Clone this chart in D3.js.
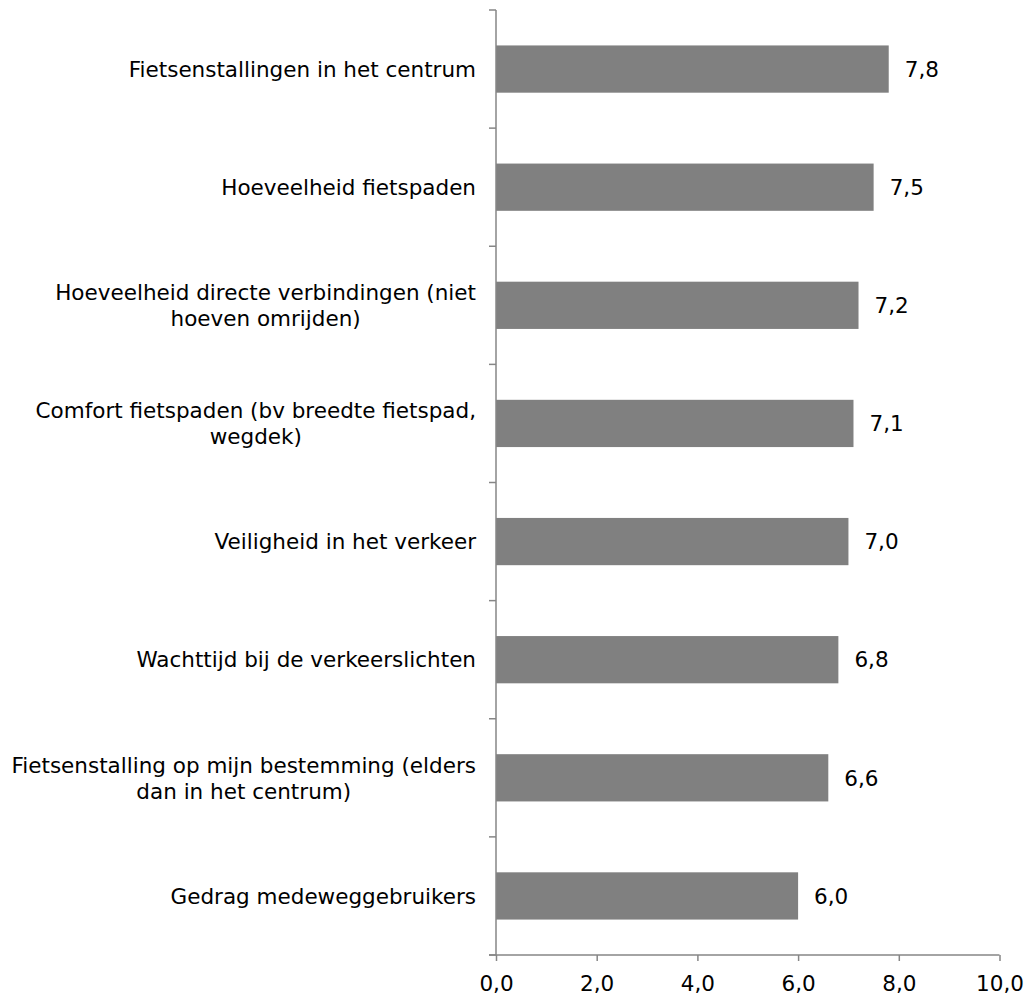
<!DOCTYPE html>
<html>
<head>
<meta charset="utf-8">
<script src="https://cdn.jsdelivr.net/npm/d3@7"></script>
<style>
  body { margin: 0; background: #fff; }
  text { font-family: "DejaVu Sans", Verdana, sans-serif; font-size: 21.5px; fill: #000; }
</style>
</head>
<body>
<div class="chart"></div>
<script>
// Chart data
var categories = [
  "Fietsenstallingen in het centrum",
  "Hoeveelheid fietspaden",
  "Hoeveelheid directe verbindingen (niet\nhoeven omrijden)",
  "Comfort fietspaden (bv breedte fietspad,\nwegdek)",
  "Veiligheid in het verkeer",
  "Wachttijd bij de verkeerslichten",
  "Fietsenstalling op mijn bestemming (elders\ndan in het centrum)",
  "Gedrag medeweggebruikers"
];
var values = [7.8, 7.5, 7.2, 7.1, 7.0, 6.8, 6.6, 6.0];
var xTicks = [0, 2, 4, 6, 8, 10];

// SVG area
var svgWidth = 1032;
var svgHeight = 995;
var margin = {top: 10, right: 32, bottom: 40, left: 496};
var width = svgWidth - margin.left - margin.right;
var height = svgHeight - margin.top - margin.bottom;

var svg = d3.select(".chart")
  .append("svg")
  .attr("width", svgWidth)
  .attr("height", svgHeight);

var chart = svg.append("g")
  .attr("transform", "translate(" + margin.left + "," + margin.top + ")");

// Scales
var xScale = d3.scaleLinear().domain([0, 10]).range([0, width - 0.5]);
var yScale = d3.scaleBand()
  .domain(categories)
  .range([0, height])
  .paddingInner(0.6)
  .paddingOuter(0.3);

var fmt = function(d) { return d3.format(".1f")(d).replace(".", ","); };

// Bars
chart.selectAll("rect.bar")
  .data(values)
  .enter().append("rect")
  .attr("class", "bar")
  .attr("x", 0)
  .attr("y", function(d, i) { return yScale(categories[i]); })
  .attr("width", function(d) { return xScale(d); })
  .attr("height", yScale.bandwidth())
  .attr("fill", "#808080");

// Value labels
chart.selectAll("text.value")
  .data(values)
  .enter().append("text")
  .attr("class", "value")
  .attr("x", function(d) { return xScale(d) + 16; })
  .attr("y", function(d, i) { return yScale(categories[i]) + yScale.bandwidth() / 2; })
  .attr("dy", "0.36em")
  .text(fmt);

// X axis
var bottomAxis = d3.axisBottom(xScale)
  .tickValues(xTicks)
  .tickSize(6)
  .tickSizeOuter(0)
  .tickPadding(15)
  .tickFormat(fmt);

var xAxis = chart.append("g")
  .attr("transform", "translate(0," + height + ")")
  .call(bottomAxis);
xAxis.attr("font-size", null).attr("font-family", null);
xAxis.select(".domain").attr("stroke", "#868686").attr("stroke-width", 1.5).attr("d", "M-7,0H" + xScale(10));
xAxis.selectAll(".tick line").attr("stroke", "#868686").attr("stroke-width", 1.5);
xAxis.selectAll(".tick text").style("fill", "#000");

// Y axis: line with ticks at band boundaries
var step = yScale.step();
var boundaries = categories.map(function(c) { return yScale(c) - step * 0.3; }).concat([height]);
chart.append("line")
  .attr("x1", 0).attr("x2", 0)
  .attr("y1", 0).attr("y2", height)
  .attr("stroke", "#868686").attr("stroke-width", 1.5);
chart.selectAll("line.ytick")
  .data(boundaries)
  .enter().append("line")
  .attr("class", "ytick")
  .attr("x1", -7).attr("x2", 0)
  .attr("y1", function(d) { return d; })
  .attr("y2", function(d) { return d; })
  .attr("stroke", "#868686").attr("stroke-width", 1.5);

// Category labels, block right-aligned, lines centered
var lineHeight = 26;
categories.forEach(function(c) {
  var lines = c.split("\n");
  var g = chart.append("g");
  var texts = g.selectAll("text")
    .data(lines)
    .enter().append("text")
    .attr("text-anchor", "middle")
    .attr("dy", "0.36em")
    .attr("y", function(d, i) {
      return yScale(c) + yScale.bandwidth() / 2 + (i - (lines.length - 1) / 2) * lineHeight;
    })
    .text(function(d) { return d; });
  var maxW = d3.max(texts.nodes(), function(n) { return n.getComputedTextLength(); });
  texts.attr("x", -20 - maxW / 2);
});
</script>
</body>
</html>
